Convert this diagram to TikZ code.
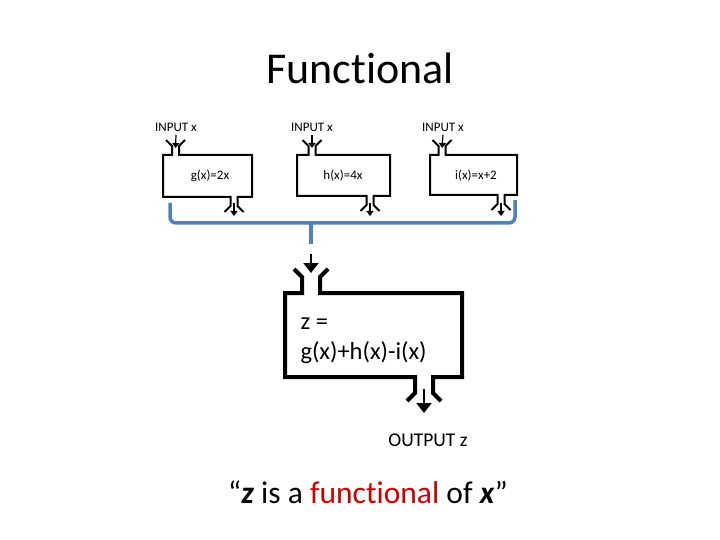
\documentclass[tikz,border=0pt]{standalone}
\usepackage{fontspec}
\setmainfont[Ligatures=NoCommon]{Carlito}
\usetikzlibrary{arrows.meta,positioning}
\definecolor{busblue}{HTML}{4F81BD}
\definecolor{hotred}{HTML}{CC0000}

% outline of a machine: #1 left, #2 top, #3 right, #4 bottom,
% #5 input x, #6 output x, #7 half gap, #8 neck, #9 flare
\newcommand{\machineframe}[9]{%
  \draw[frame] ({#5-#7-#9},{#2-#8-#9}) -- ({#5-#7},{#2-#8}) -- ({#5-#7},#2) -| (#1,#4)
    -- ({#6-#7},#4) -- ({#6-#7},{#4+#8}) -- ({#6-#7-#9},{#4+#8+#9});
  \draw[frame] ({#5+#7+#9},{#2-#8-#9}) -- ({#5+#7},{#2-#8}) -- ({#5+#7},#2) -| (#3,#4)
    -- ({#6+#7},#4) -- ({#6+#7},{#4+#8}) -- ({#6+#7+#9},{#4+#8+#9});
}

\begin{document}
\begin{tikzpicture}[x=1pt, y=-1pt,
    frame/.style={line width=2pt},
    small/.style={font=\fontsize{13}{15}\selectfont},
    inarrow/.style={-{Triangle[length=5pt,width=7pt]}, line width=1.2pt},
    bigarrow/.style={-{Triangle[length=10pt,width=15pt]}, line width=2pt},
    bus/.style={busblue, line width=3.5pt}]
  \useasboundingbox (0,0) rectangle (720,540);

  \node[font=\fontsize{44}{50}\selectfont] (title) at (360,68) {Functional};

  % the three small machines
  \machineframe{163}{155}{252}{197}{175.5}{234}{3.5}{9}{6}
  \machineframe{297}{155}{390}{196}{312}{370}{3.5}{9}{6}
  \machineframe{430}{155}{517}{195}{442}{501}{3.5}{9}{6}
  \node[small] (g) at (210,176) {g(x)=2x};
  \node[small] (h) at (343,176) {h(x)=4x};
  \node[small] (i) at (476,176) {i(x)=x+2};

  \node[small] (in1) at (176,127) {INPUT x};
  \node[small] (in2) at (312,127) {INPUT x};
  \node[small] (in3) at (443,127) {INPUT x};
  \coordinate (g in) at (175.5,148);
  \coordinate (h in) at (312,148);
  \coordinate (i in) at (442,148);
  \draw[inarrow] (in1.south) -- (g in);
  \draw[inarrow] (in2.south) -- (h in);
  \draw[inarrow] (in3.south) -- (i in);

  \coordinate (g top) at (234,203); \coordinate (g out) at (234,216);
  \coordinate (h top) at (370,203); \coordinate (h out) at (370,216);
  \coordinate (i top) at (501,203); \coordinate (i out) at (501,216);
  \draw[inarrow] (g top) -- (g out);
  \draw[inarrow] (h top) -- (h out);
  \draw[inarrow] (i top) -- (i out);

  % blue bracket collecting the outputs
  \coordinate (b left) at (170,203);
  \coordinate (b mid) at (311,223);
  \coordinate (b right) at (515,200);
  \coordinate (b stem) at (311,244);
  \draw[bus, rounded corners=6] (b left) |- (b mid) -| (b right);
  \fill[busblue] (302,222) .. controls (309,222.5) .. (309.5,231) -- (312.5,231) .. controls (313,222.5) .. (320,222) -- cycle;
  \draw[bus] (b mid) -- (b stem);

  % the big machine
  \begin{scope}[frame/.style={line width=4pt}]
    \machineframe{285}{293}{462}{377}{311}{424}{9}{16}{8}
  \end{scope}
  \node[font=\fontsize{24.5}{30}\selectfont, align=left, anchor=west] (z) at (297,341)
    {z =\\g(x)+h(x)-i(x)};
  \coordinate (z top) at (311,254);
  \coordinate (z in) at (311,273);
  \draw[bigarrow] (z top) -- (z in);
  \coordinate (z bot) at (424,389);
  \coordinate (z out) at (424,413);
  \draw[bigarrow] (z bot) -- (z out);
  \node[font=\fontsize{19.5}{22}\selectfont] (output) at (428,440) {OUTPUT z};

  \node[font=\fontsize{31.5}{36}\selectfont] (quote) at (368,492)
    {``\textbf{\textit{z}} is a \textcolor{hotred}{functional} of \textbf{\textit{x}}''};
\end{tikzpicture}
\end{document}
